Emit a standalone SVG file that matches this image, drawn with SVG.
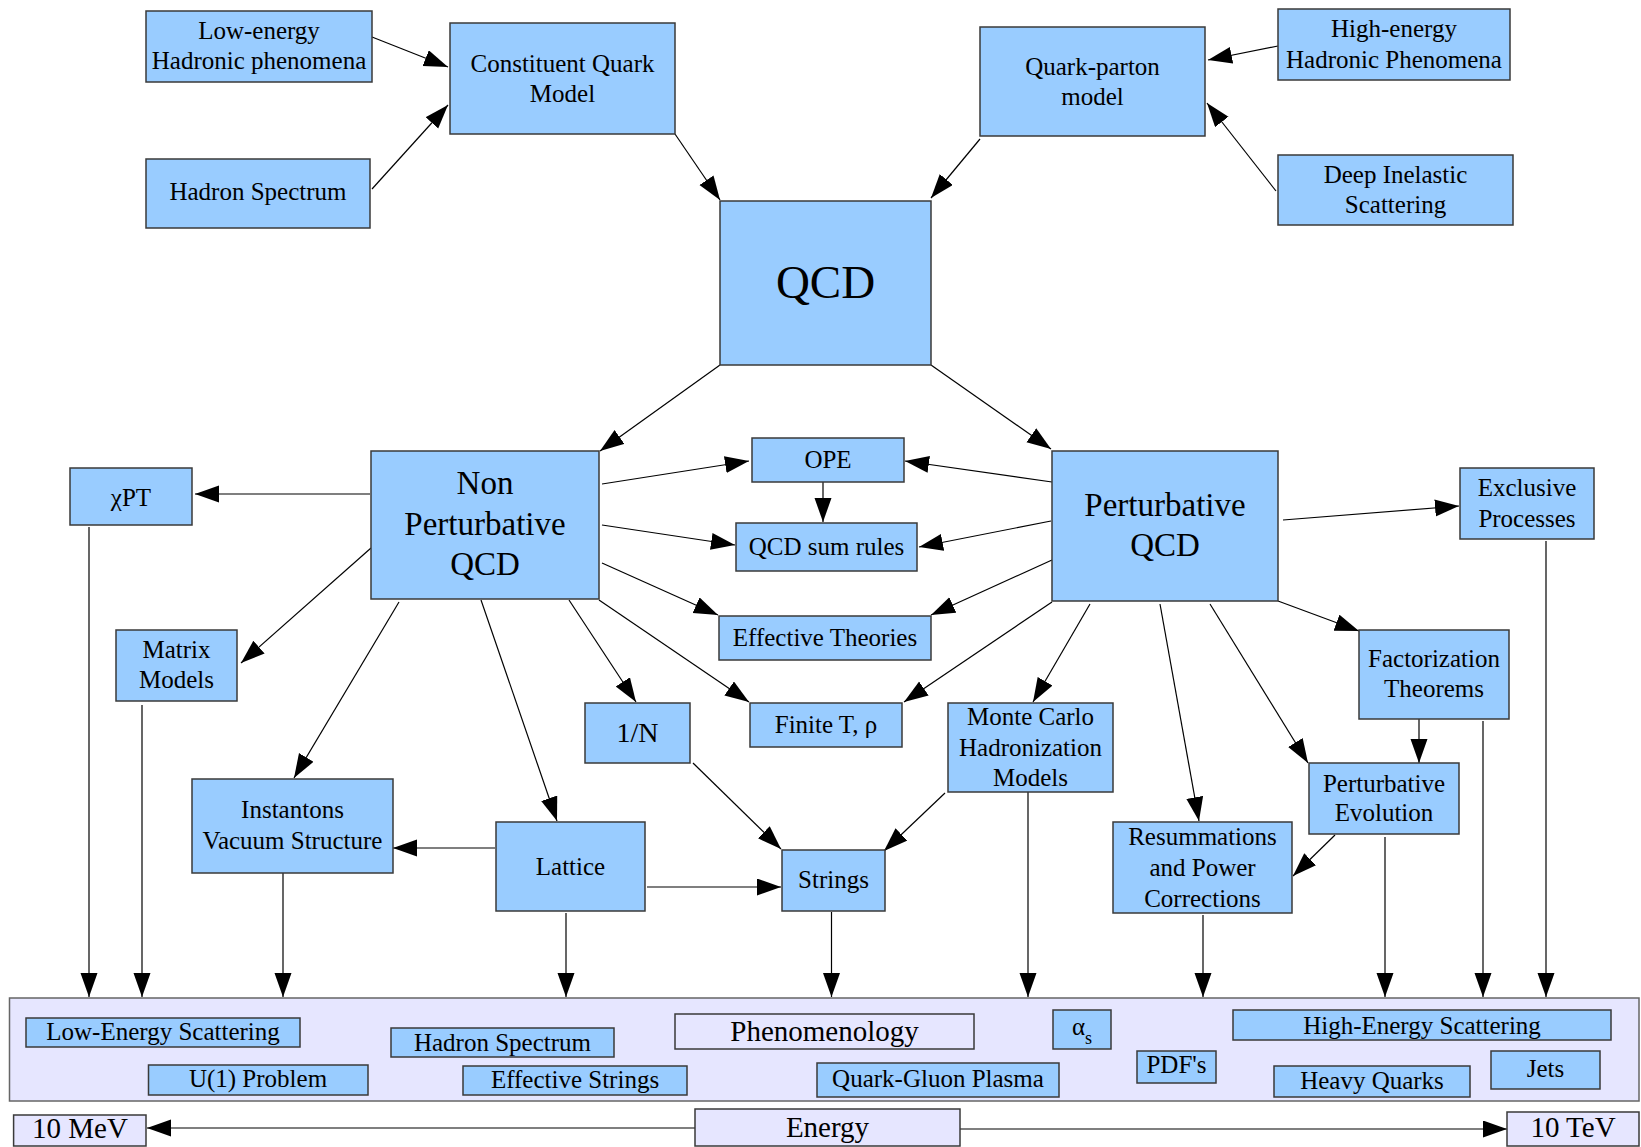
<svg xmlns="http://www.w3.org/2000/svg" width="1641" height="1147" viewBox="0 0 1641 1147">
<style>
text{font-family:"Liberation Serif","Times New Roman",serif;font-size:25px;fill:#000;text-anchor:middle}
.n{fill:#99CCFF;stroke:#3a3a3a;stroke-width:1.5}
.l{fill:#E6E6FF;stroke:#3a3a3a;stroke-width:1.5}
.bg{fill:#E6E6FF;stroke:#666;stroke-width:1.5}
.big{font-size:33px}
.c line{stroke:#000;stroke-width:1.2;marker-end:url(#a)}
</style>
<defs>
<marker id="a" markerUnits="userSpaceOnUse" markerWidth="26" markerHeight="18" refX="24" refY="8.5" orient="auto">
<path d="M0,0 L24,8.5 L0,17 z" fill="#000"/>
</marker>
</defs>
<rect x="0" y="0" width="1641" height="1147" fill="#fff"/>
<g id="bottom-panel"><rect class="bg" x="9.5" y="998" width="1629.5" height="103"/></g>

<g class="c" id="connectors">
<line x1="372" y1="37" x2="448" y2="67"/>
<line x1="372" y1="189" x2="448" y2="105"/>
<line x1="675" y1="134" x2="720" y2="200"/>
<line x1="980" y1="139" x2="931" y2="198"/>
<line x1="1278" y1="46" x2="1208" y2="60"/>
<line x1="1276" y1="191" x2="1207" y2="103"/>
<line x1="720" y1="365" x2="600" y2="451"/>
<line x1="931" y1="365" x2="1051" y2="449"/>
<line x1="370" y1="494" x2="195" y2="494"/>
<line x1="602" y1="484" x2="749" y2="461"/>
<line x1="602" y1="525" x2="735" y2="545"/>
<line x1="602" y1="563" x2="718" y2="615"/>
<line x1="599" y1="600" x2="749" y2="702"/>
<line x1="569" y1="600" x2="636" y2="702"/>
<line x1="481" y1="600" x2="557" y2="821"/>
<line x1="399" y1="602" x2="294" y2="778"/>
<line x1="371" y1="548" x2="241" y2="663"/>
<line x1="1052" y1="482" x2="905" y2="461"/>
<line x1="1051" y1="521" x2="919" y2="547"/>
<line x1="1052" y1="560" x2="931" y2="615"/>
<line x1="1052" y1="602" x2="904" y2="702"/>
<line x1="1090" y1="604" x2="1033" y2="702"/>
<line x1="1160" y1="604" x2="1199" y2="821"/>
<line x1="1210" y1="604" x2="1308" y2="763"/>
<line x1="1278" y1="601" x2="1359" y2="631"/>
<line x1="1283" y1="520" x2="1459" y2="506"/>
<line x1="823" y1="482" x2="823" y2="522"/>
<line x1="1419" y1="719" x2="1419" y2="763"/>
<line x1="693" y1="763" x2="781" y2="849"/>
<line x1="945" y1="793" x2="884" y2="851"/>
<line x1="1335" y1="835" x2="1293" y2="876"/>
<line x1="495" y1="848" x2="393" y2="848"/>
<line x1="647" y1="887" x2="781" y2="887"/>
<line x1="89" y1="527" x2="89" y2="997"/>
<line x1="142" y1="705" x2="142" y2="997"/>
<line x1="283" y1="873" x2="283" y2="997"/>
<line x1="566" y1="913" x2="566" y2="997"/>
<line x1="831.5" y1="912" x2="831.5" y2="997"/>
<line x1="1028" y1="792" x2="1028" y2="997"/>
<line x1="1203" y1="915" x2="1203" y2="997"/>
<line x1="1385" y1="837" x2="1385" y2="997"/>
<line x1="1483" y1="721" x2="1483" y2="997"/>
<line x1="1546" y1="541" x2="1546" y2="997"/>
<line x1="960" y1="1129" x2="1507" y2="1129"/>
<line x1="695" y1="1128" x2="147" y2="1128"/>
</g>

<g id="low-energy"><rect class="n" x="146" y="11" width="226" height="71"/><text x="259" y="39">Low-energy</text><text x="259" y="69">Hadronic phenomena</text></g>
<g id="cqm"><rect class="n" x="450" y="23" width="225" height="111"/><text x="562.5" y="72">Constituent Quark</text><text x="562.5" y="102">Model</text></g>
<g id="hadron-spectrum-top"><rect class="n" x="146" y="159" width="224" height="69"/><text x="258" y="200">Hadron Spectrum</text></g>
<g id="qcd"><rect class="n" x="720" y="201" width="211" height="164"/><text x="825.5" y="298" style="font-size:47px">QCD</text></g>
<g id="qpm"><rect class="n" x="980" y="27" width="225" height="109"/><text x="1092.5" y="75">Quark-parton</text><text x="1092.5" y="105">model</text></g>
<g id="high-energy"><rect class="n" x="1278" y="9" width="232" height="71"/><text x="1394" y="37">High-energy</text><text x="1394" y="68">Hadronic Phenomena</text></g>
<g id="dis"><rect class="n" x="1278" y="155" width="235" height="70"/><text x="1395.5" y="183">Deep Inelastic</text><text x="1395.5" y="213">Scattering</text></g>
<g id="npqcd"><rect class="n" x="371" y="451" width="228" height="148"/><text class="big" x="485" y="494">Non</text><text class="big" x="485" y="535">Perturbative</text><text class="big" x="485" y="575">QCD</text></g>
<g id="chipt"><rect class="n" x="70" y="468" width="122" height="57"/><text x="131" y="506">χPT</text></g>
<g id="matrix"><rect class="n" x="116" y="630" width="121" height="71"/><text x="176.5" y="658">Matrix</text><text x="176.5" y="688">Models</text></g>
<g id="oneN"><rect class="n" x="585" y="703" width="105" height="60"/><text x="637.5" y="742" style="font-size:28px">1/N</text></g>
<g id="instantons"><rect class="n" x="192" y="779" width="201" height="94"/><text x="292.5" y="818">Instantons</text><text x="292.5" y="849">Vacuum Structure</text></g>
<g id="lattice"><rect class="n" x="496" y="822" width="149" height="89"/><text x="570.5" y="875">Lattice</text></g>
<g id="ope"><rect class="n" x="752" y="438" width="152" height="44"/><text x="828" y="468">OPE</text></g>
<g id="qcd-sum-rules"><rect class="n" x="736" y="523" width="181" height="48"/><text x="826.5" y="555">QCD sum rules</text></g>
<g id="effective-theories"><rect class="n" x="719" y="616" width="212" height="44"/><text x="825" y="646">Effective Theories</text></g>
<g id="finite-t"><rect class="n" x="750" y="703" width="152" height="44"/><text x="826" y="733">Finite T, ρ</text></g>
<g id="pqcd"><rect class="n" x="1052" y="451" width="226" height="150"/><text class="big" x="1165" y="516">Perturbative</text><text class="big" x="1165" y="556">QCD</text></g>
<g id="exclusive"><rect class="n" x="1460" y="468" width="134" height="71"/><text x="1527" y="496">Exclusive</text><text x="1527" y="527">Processes</text></g>
<g id="factorization"><rect class="n" x="1359" y="630" width="150" height="89"/><text x="1434" y="667">Factorization</text><text x="1434" y="697">Theorems</text></g>
<g id="monte-carlo"><rect class="n" x="948" y="703" width="165" height="89"/><text x="1030.5" y="725">Monte Carlo</text><text x="1030.5" y="756">Hadronization</text><text x="1030.5" y="786">Models</text></g>
<g id="pert-evolution"><rect class="n" x="1309" y="763" width="150" height="71"/><text x="1384" y="792">Perturbative</text><text x="1384" y="821">Evolution</text></g>
<g id="resummations"><rect class="n" x="1113" y="822" width="179" height="91"/><text x="1202.5" y="845">Resummations</text><text x="1202.5" y="876">and Power</text><text x="1202.5" y="907">Corrections</text></g>
<g id="strings"><rect class="n" x="782" y="850" width="103" height="61"/><text x="833.5" y="888">Strings</text></g>

<g id="low-energy-scattering"><rect class="n" x="26" y="1018" width="274" height="29"/><text x="163" y="1040">Low-Energy Scattering</text></g>
<g id="u1"><rect class="n" x="148.5" y="1065" width="219.5" height="30"/><text x="258" y="1087">U(1) Problem</text></g>
<g id="hadron-spectrum-bottom"><rect class="n" x="391" y="1028" width="223" height="29"/><text x="502.5" y="1051">Hadron Spectrum</text></g>
<g id="effective-strings"><rect class="n" x="463" y="1066" width="224" height="29"/><text x="575" y="1088">Effective Strings</text></g>
<g id="phenomenology"><rect class="l" x="675" y="1014" width="299" height="35"/><text x="824.5" y="1041" style="font-size:29px">Phenomenology</text></g>
<g id="qgp"><rect class="n" x="817" y="1063" width="242" height="34"/><text x="938" y="1087">Quark-Gluon Plasma</text></g>
<g id="alpha-s"><rect class="n" x="1053" y="1010" width="58" height="39"/><text x="1082" y="1035">α<tspan dy="9" style="font-size:18px">s</tspan></text></g>
<g id="pdfs"><rect class="n" x="1137" y="1051" width="79" height="32"/><text x="1176.5" y="1073">PDF's</text></g>
<g id="high-energy-scattering"><rect class="n" x="1233" y="1010" width="378" height="30"/><text x="1422" y="1034">High-Energy Scattering</text></g>
<g id="heavy-quarks"><rect class="n" x="1274" y="1066" width="196" height="31"/><text x="1372" y="1089">Heavy Quarks</text></g>
<g id="jets"><rect class="n" x="1491" y="1051" width="109" height="38"/><text x="1545.5" y="1077">Jets</text></g>
<g id="ten-mev"><rect class="l" x="13.6" y="1115" width="132.4" height="31"/><text x="80" y="1138" style="font-size:29px">10 MeV</text></g>
<g id="energy"><rect class="l" x="695" y="1109" width="265" height="37"/><text x="827.5" y="1137" style="font-size:29px">Energy</text></g>
<g id="ten-tev"><rect class="l" x="1507" y="1112" width="132" height="34"/><text x="1573" y="1137" style="font-size:29px">10 TeV</text></g>
</svg>
